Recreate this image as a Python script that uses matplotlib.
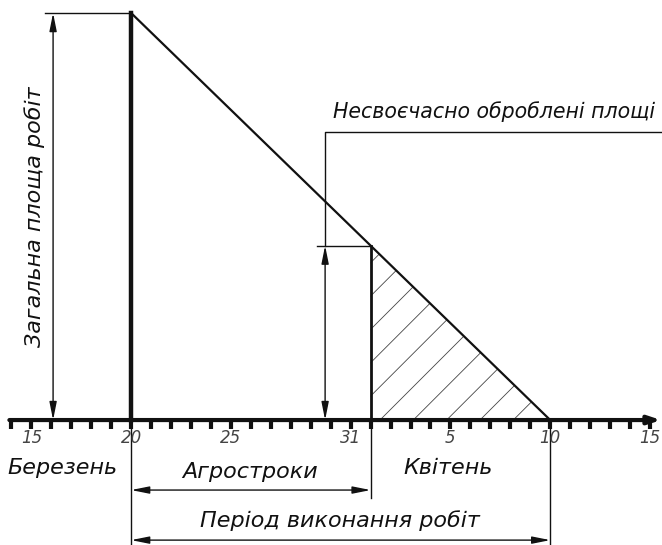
import matplotlib
matplotlib.use("Agg")
import matplotlib.pyplot as plt
from matplotlib.patches import Polygon

# ----------------------------------------------------------------------
# data (days counted from 1 March, so 1 April = 32)
# ----------------------------------------------------------------------
start_day = 20        # 20 March - start of works
agro_end = 32         # end of agrotechnical term (31 March / 1 April)
end_day = 41          # 10 April - end of works
total_area = 1.0

tick_days = list(range(14, 47))
label_days = [15, 20, 25, 31, 36, 41, 46]
label_text = ["15", "20", "25", "31", "5", "10", "15"]
months = ["Березень", "Квітень"]
month_pos = [16.55, 35.9]

FONT = ["DejaVu Sans"]
INK = "#111111"
plt.rcParams["hatch.linewidth"] = 0.6

def dim_arrow(ax, p0, p1):
    ax.annotate("", xy=p1, xytext=p0,
                arrowprops=dict(arrowstyle="<|-|>,head_length=0.9,head_width=0.18",
                                color=INK, lw=1.0, shrinkA=0, shrinkB=0,
                                mutation_scale=12))

fig = plt.figure(figsize=(6.62, 5.45), dpi=100)
ax = fig.add_axes([0, 0, 1, 1])
ax.set_xlim(13.43, 46.6)
ax.set_ylim(-0.307, 1.032)
ax.axis("off")

# area remaining vs time
h_agro = total_area * (end_day - agro_end) / (end_day - start_day)
ax.plot([start_day, end_day], [total_area, 0], color=INK, lw=1.6)
ax.plot([start_day, start_day], [0, total_area], color=INK, lw=3.2)
ax.plot([agro_end, agro_end], [0, h_agro], color=INK, lw=2.0)
tri = Polygon([(agro_end, 0), (agro_end, h_agro), (end_day, 0)], closed=True,
              facecolor="none", edgecolor="#444444", hatch="/", lw=0)
ax.add_patch(tri)

# time axis
ax.annotate("", xy=(46.55, 0), xytext=(13.9, 0),
            arrowprops=dict(arrowstyle="-|>,head_length=0.6,head_width=0.2",
                            color=INK, lw=3.0, shrinkA=0, shrinkB=0,
                            mutation_scale=12))
for d in tick_days:
    ax.plot([d, d], [0, -0.022], color=INK, lw=3.0, solid_capstyle="butt")
for d, t in zip(label_days, label_text):
    ax.text(d, -0.044, t, ha="center", va="center", fontsize=12,
            style="italic", color="#444444", family=FONT)
for m, x in zip(months, month_pos):
    ax.text(x, -0.117, m, ha="center", va="center", fontsize=16,
            style="italic", color=INK, family=FONT)

# total area dimension
ax.plot([15.69, start_day], [total_area, total_area], color=INK, lw=1.0)
dim_arrow(ax, (16.09, 0), (16.09, total_area))
ax.text(15.15, 0.50, "Загальна площа робіт", rotation=90, ha="center",
        va="center", fontsize=16, style="italic", color=INK, family=FONT)

# late-processed area dimension + leader
ax.plot([29.32, agro_end], [h_agro, h_agro], color=INK, lw=1.0)
dim_arrow(ax, (29.72, 0), (29.72, h_agro))
ax.plot([29.72, 29.72, 46.6], [h_agro, 0.7076, 0.7076], color=INK, lw=1.0)
ax.text(30.1, 0.757, "Несвоєчасно оброблені площі", ha="left", va="center",
        fontsize=14.8, style="italic", color=INK, family=FONT)

# bottom dimensions
ax.plot([start_day, start_day], [0, -0.307], color=INK, lw=1.0)
ax.plot([agro_end, agro_end], [0, -0.192], color=INK, lw=1.0)
ax.plot([end_day, end_day], [0, -0.307], color=INK, lw=1.0)
dim_arrow(ax, (start_day, -0.172), (agro_end, -0.172))
ax.text(25.96, -0.128, "Агростроки", ha="center", va="center", fontsize=16,
        style="italic", color=INK, family=FONT)
dim_arrow(ax, (start_day, -0.295), (end_day, -0.295))
ax.text(30.48, -0.246, "Період виконання робіт", ha="center", va="center",
        fontsize=16, style="italic", color=INK, family=FONT)

fig.savefig("out.png", dpi=100)
